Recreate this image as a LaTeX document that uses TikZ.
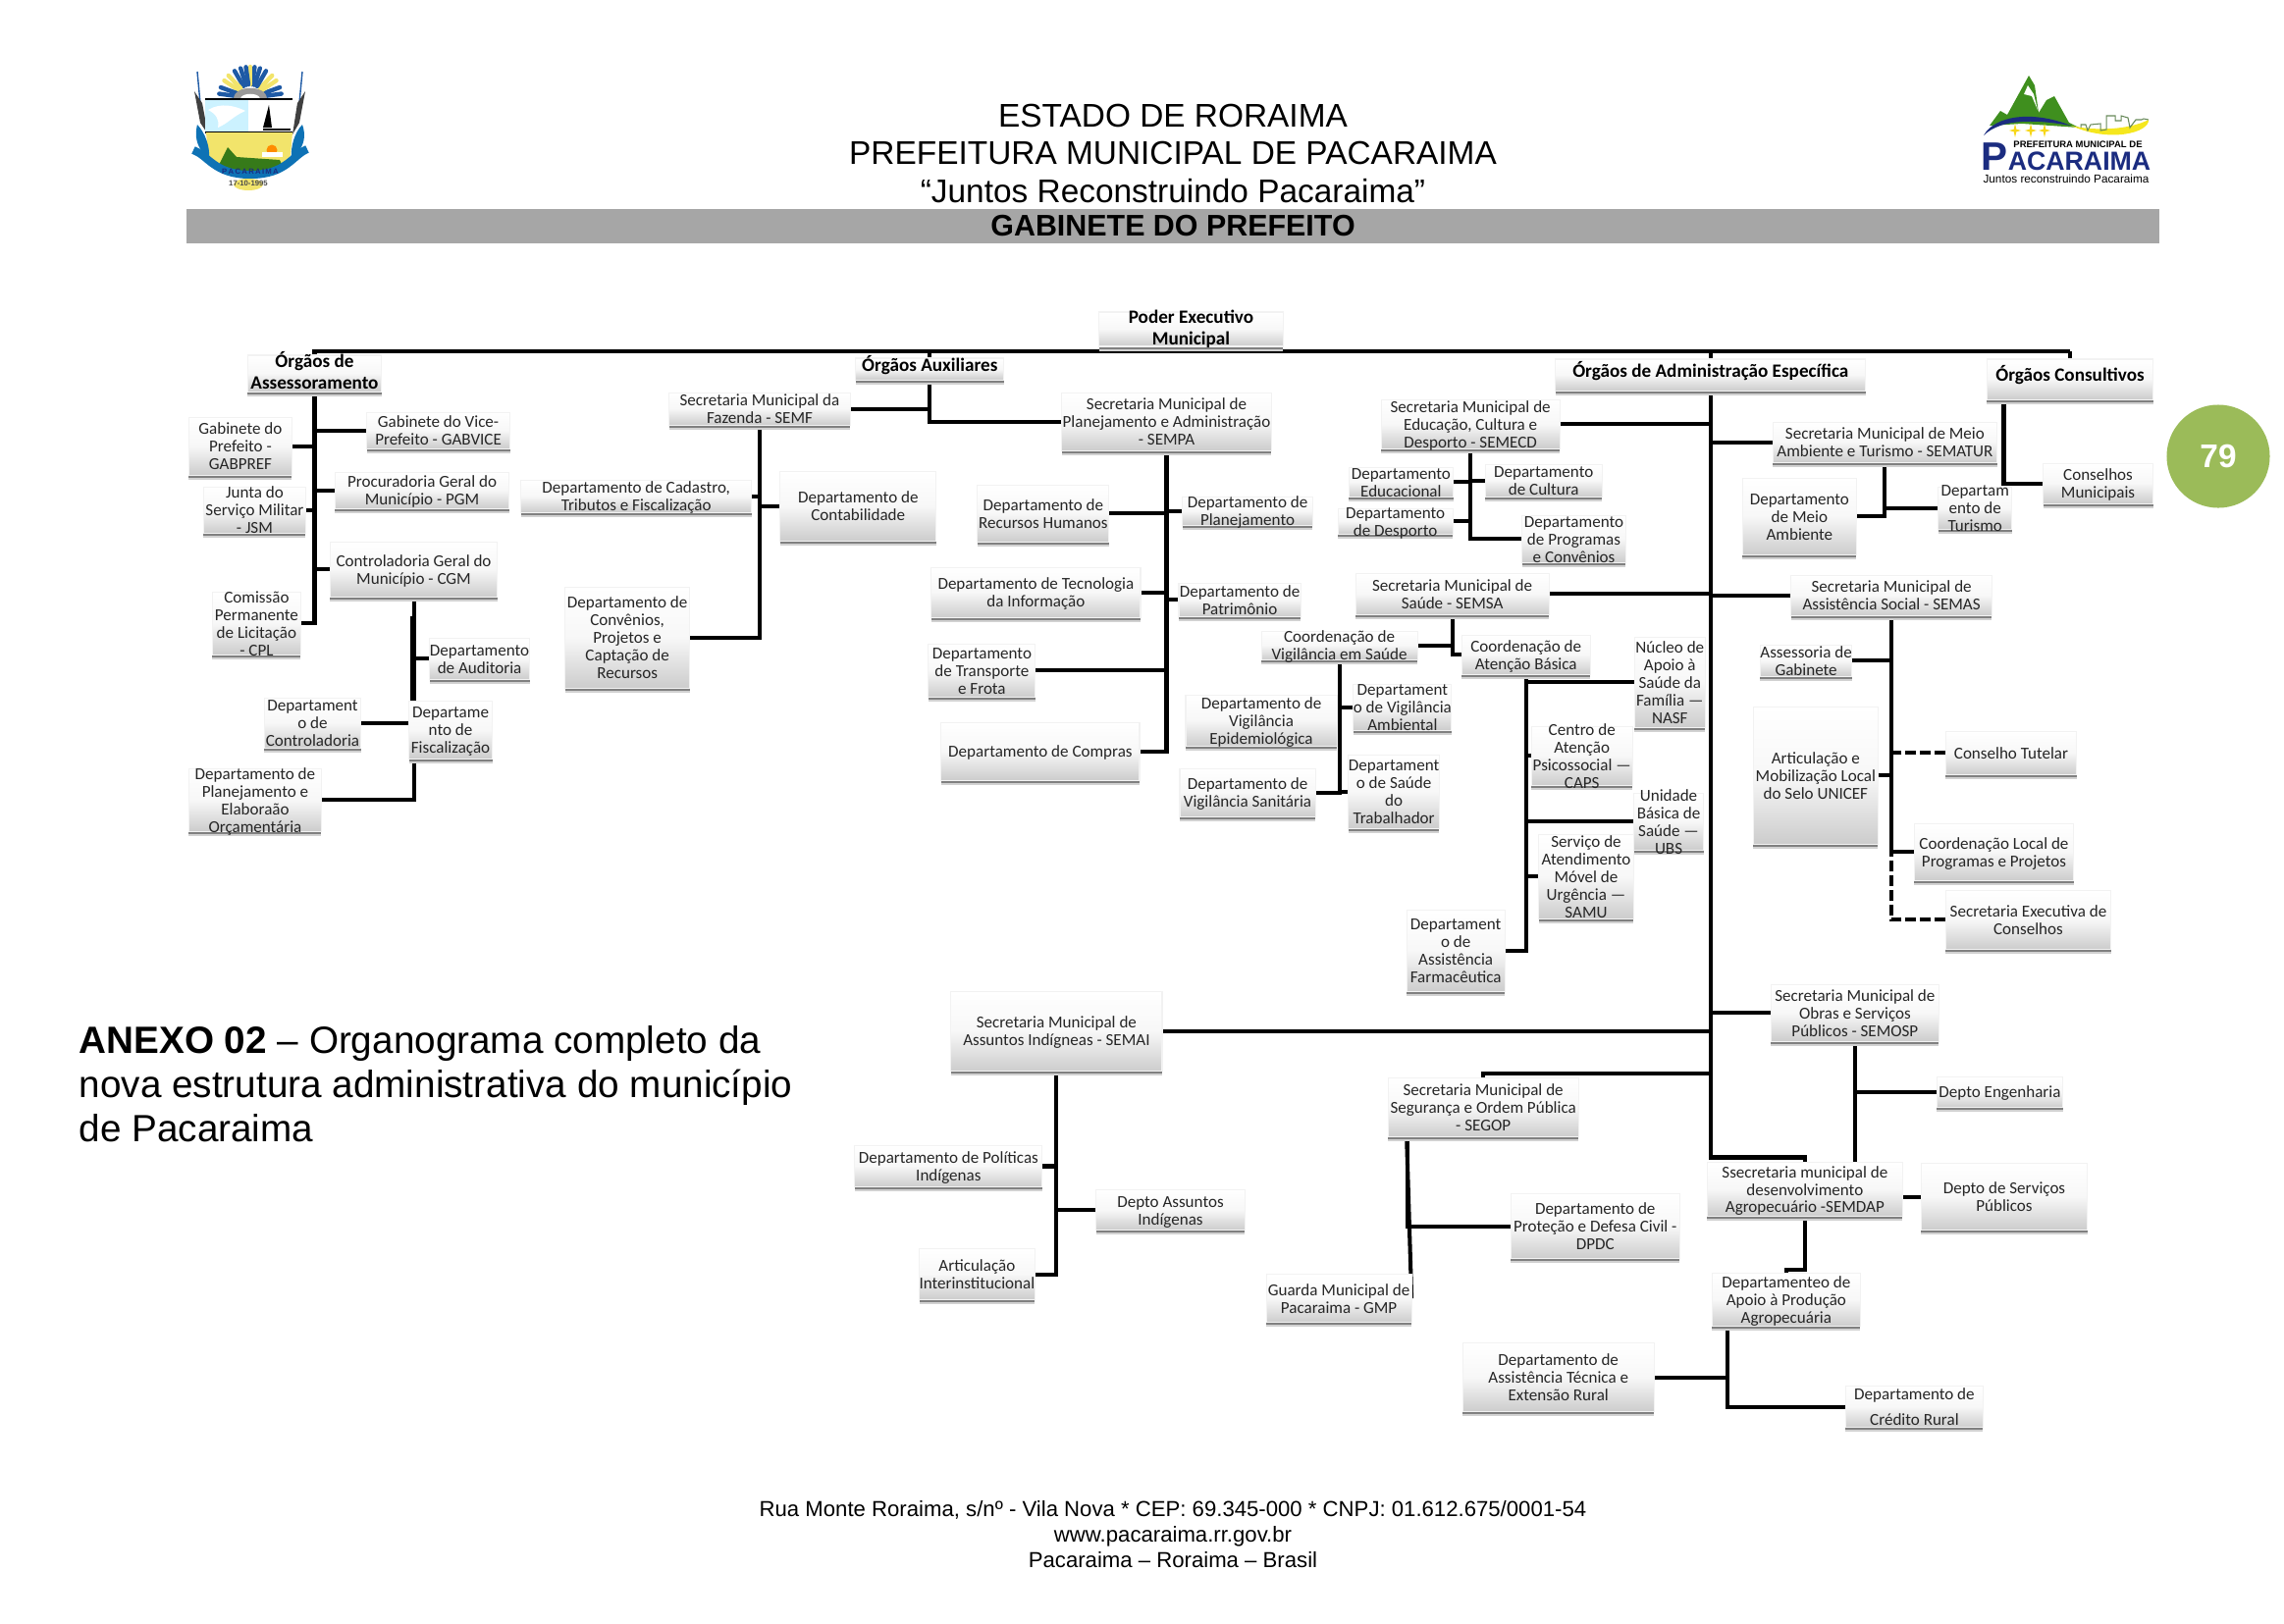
\documentclass[tikz,border=0pt]{standalone}
\usepackage{fontspec}
\setmainfont{Liberation Sans}
\newfontfamily\boxfont{Carlito}
\usepackage{tikz}
\usetikzlibrary{positioning}
\usetikzlibrary{backgrounds, shadows}
\usepackage{xcolor}
\definecolor{bargray}{RGB}{166, 166, 166}
\definecolor{pagegreen}{RGB}{155, 187, 89}
\definecolor{crestblue}{RGB}{30, 90, 165}
\definecolor{ribbonblue}{RGB}{14, 114, 181}
\definecolor{crestyellow}{RGB}{242, 228, 107}
\definecolor{logonavy}{RGB}{27, 44, 128}
\definecolor{logogreen}{RGB}{63, 143, 30}
\definecolor{logoyellow}{RGB}{245, 231, 30}
\newcommand{\boxlines}[2][-0.4em]{\raisebox{#1}[0pt][0pt]{\begin{tabular}{@{}c@{}}#2\end{tabular}}}

\begin{document}
\begin{tikzpicture}[
			x=0.01cm, y=-0.01cm,
			% Chart node styles
			wh/.style 2 args={minimum width=#1cm, minimum height=#2cm},
			orgbox/.style={
				inner sep=0pt, outer sep=0pt, text=black!85,
				draw=black!5, line width=0.3pt,
				top color=white, bottom color=black!20, middle color=black!3,
				general shadow={shadow yshift=-0.045cm, fill=black!18},
				general shadow={shadow yshift=-0.025cm, fill=black!50},
				font={\boxfont\fontsize{4.85}{5.1}\selectfont}
			},
			headbox/.style={
				orgbox, text=black,
				font={\boxfont\bfseries\fontsize{5.45}{6.3}\selectfont}
			},
			link/.style={draw=black, line width=1.15pt},
			dashlink/.style={link, dash pattern=on 0.11cm off 0.04cm}
		]

		\useasboundingbox (0,0) rectangle (2327,1654);

		% Page header, footer and annex text
		\node[align=center, font={\fontsize{9.5}{11}\selectfont}] (title) at (1195,156.4)
			{ESTADO DE RORAIMA\\
			PREFEITURA MUNICIPAL DE PACARAIMA\\
			“Juntos Reconstruindo Pacaraima”};
		\node[fill=bargray, inner sep=0pt, minimum width=20.08cm, minimum height=0.345cm,
			font={\bfseries\fontsize{8.65}{11}\selectfont}] (bar) at (1195,230.5)
			{GABINETE DO PREFEITO};
		\node[align=center, font={\fontsize{6.3}{7.4}\selectfont}] (footer) at (1195,1564)
			{Rua Monte Roraima, s/nº - Vila Nova * CEP: 69.345-000 * CNPJ: 01.612.675/0001-54\\
			www.pacaraima.rr.gov.br\\
			Pacaraima – Roraima – Brasil};
		\node[align=left, anchor=west, inner sep=0pt, font={\fontsize{11}{12.8}\selectfont}] (annex) at (80,1105)
			{\textbf{ANEXO 02} – Organograma completo da\\
			nova estrutura administrativa do município\\
			de Pacaraima};
		\node[circle, fill=pagegreen, minimum size=1.05cm, inner sep=0pt, text=white,
			font={\bfseries\fontsize{9.5}{11}\selectfont}] (pagenum) at (2260,465) {79};

		% Crest, top left
		\draw[crestblue, line width=0.4pt] (201,73) -- (204,105);
		\draw[crestblue, line width=0.4pt] (308,73) -- (305,105);
		\fill[black!75] (198,93) -- (206,105) -- (212,137) -- (204,125) -- cycle;
		\fill[black!75] (311,93) -- (303,105) -- (298,137) -- (305,125) -- cycle;
		\foreach \ang/\col in {8/crestblue, 20/crestblue, 34/crestyellow, 46/crestyellow, 60/crestblue, 72/crestblue, 82/crestblue, 90/crestyellow, 98/crestblue, 108/crestblue, 120/crestblue, 134/crestyellow, 146/crestyellow, 160/crestblue, 172/crestblue}
			\draw[\col, line width=1.25pt, line cap=round] ({255+14*cos(\ang)},{100-14*sin(\ang)}) -- ({255+32*cos(\ang)},{100-32*sin(\ang)});
		\fill[black!40] (238,101) .. controls (238,86) and (272,86) .. (272,101) -- cycle;
		\fill[white] (245,101) .. controls (245,94) and (265,94) .. (265,101) -- cycle;
		\fill[blue!25!cyan!20] (209,101) rectangle (253,135);
		\fill[white] (212,112) .. controls (225,104) and (240,108) .. (250,113) .. controls (238,118) and (232,126) .. (222,130) .. controls (224,122) and (220,116) .. cycle;
		\fill[black] (274,107) -- (277,130) -- (268,130) -- cycle;
		\draw[black, line width=0.5pt] (209,101) -- (298,101);
		\draw[black, line width=0.5pt] (209,135) -- (298,135);
		\draw[black, line width=0.4pt] (268,132) -- (296,132);
		\fill[crestyellow] (210,135) -- (298,135) -- (296,158) .. controls (290,172) and (265,178) .. (254,180) .. controls (240,178) and (216,172) .. (212,158) -- cycle;
		\fill[orange!90!yellow] (277,153) circle (5.5);
		\fill[white] (267,155) rectangle (288,160);
		\fill[logogreen!85!black] (222,170) -- (232,150) -- (241,160) -- (285,163) -- (289,172) -- (254,180) -- cycle;
		\fill[ribbonblue] (201,127) .. controls (209,135) and (214,150) .. (213,160) -- (205,153) .. controls (199,145) and (199,135) .. cycle;
		\fill[ribbonblue] (308,127) .. controls (300,135) and (296,150) .. (297,160) -- (305,153) .. controls (311,145) and (311,135) .. cycle;
		\draw[ribbonblue, line width=2.3pt] (197,153) .. controls (212,158) and (218,178) .. (255,178) .. controls (292,178) and (298,158) .. (313,152);
		\fill[crestyellow] (253,188) ellipse (15 and 6);
		\node[inner sep=0pt, text=logonavy, font={\bfseries\fontsize{2.2}{2.4}\selectfont}] (crest-name) at (255,175) {P\,A\,C\,A\,R\,A\,I\,M\,A};
		\node[inner sep=0pt, text=black!70, font={\bfseries\fontsize{2.2}{3}\selectfont}] (crest-date) at (253,187) {17-10-1995};

		% Logo, top right
		\fill[logogreen] (2027,128) -- (2038,113) -- (2045,117) -- (2067,77) -- (2073,87) -- (2077,115) -- (2085,102) -- (2093,98) -- (2108,125) -- (2118,130) -- (2060,126) -- cycle;
		\fill[white] (2066,87) -- (2072,96) -- (2076,112) -- (2070,98) -- (2062,96) -- cycle;
		\fill[logonavy] (2021,138) .. controls (2032,118) and (2070,112) .. (2110,128) .. controls (2075,122) and (2040,120) .. cycle;
		\fill[logoyellow] (2110,128) .. controls (2135,134) and (2170,132) .. (2189,122) .. controls (2190,135) and (2150,146) .. cycle;
		\draw[logogreen!60!black!70, line width=0.3pt] (2120,130) -- (2120,127) -- (2125,127) -- (2127,133) -- (2130,127) -- (2140,126) -- (2140,133) -- (2146,132) -- (2146,118) -- (2155,118) -- (2155,123) -- (2161,123) -- (2161,118) -- (2168,120) -- (2170,130) -- (2176,122) -- (2182,122) -- (2184,121) -- (2189,122);
		\foreach \sx in {2053,2069,2083}
			\fill[logoyellow!85!orange] (\sx,126) -- (\sx+1.3,131.7) -- (\sx+6,133) -- (\sx+1.3,134.3) -- (\sx,140) -- (\sx-1.3,134.3) -- (\sx-6,133) -- (\sx-1.3,131.7) -- cycle;
		\node[inner sep=0pt, font={\bfseries\fontsize{2.7}{3}\selectfont}] (logo-top) at (2117,147) {PREFEITURA MUNICIPAL DE};
		\node[anchor=base, inner sep=0pt, text=logonavy, font={\bfseries\fontsize{7.6}{9}\selectfont}] (logo-name) at (2105,173)
			{{\fontsize{11.5}{9}\selectfont P}ACARAIMA};
		\node[inner sep=0pt, font={\fontsize{3.35}{4}\selectfont}] (logo-motto) at (2105,182) {Juntos reconstruindo Pacaraima};

		% Nodes, heads of the chart
		\node[headbox, wh={1.87}{0.35}] (poder) at (1213.5,335.5)
			{\boxlines[-0.25em]{Poder Executivo\\Municipal}};
		\node[headbox, wh={1.36}{0.37}, below=0.09cm of poder, xshift=-8.925cm] (oas)
			{\boxlines[-0.25em]{Órgãos de\\Assessoramento}};
		\node[headbox, wh={1.51}{0.22}, below=0.12cm of poder, xshift=-2.66cm] (oaux)
			{\boxlines[-0.1em]{Órgãos Auxiliares}};
		\node[headbox, wh={3.16}{0.32}, below=0.13cm of poder, xshift=5.29cm] (oadm)
			{\boxlines[-0.1em]{Órgãos de Administração Específica}};
		\node[headbox, wh={1.69}{0.41}, below=0.13cm of poder, xshift=8.95cm] (ocons)
			{\boxlines[-0.1em]{Órgãos Consultivos}};

		% Nodes, Assessoramento
		\node[orgbox, wh={1.46}{0.37}, below=0.21cm of oas, xshift=1.26cm] (vice)
			{\boxlines{Gabinete do Vice-\\Prefeito - GABVICE}};
		\node[orgbox, wh={1.05}{0.59}, below=0.26cm of oas, xshift=-0.755cm] (gabpref)
			{\boxlines{Gabinete do\\Prefeito -\\GABPREF}};
		\node[orgbox, wh={1.04}{0.47}, below=0.97cm of oas, xshift=-0.61cm] (jsm)
			{\boxlines{Junta do\\Serviço Militar\\- JSM}};
		\node[orgbox, wh={1.77}{0.37}, below=0.82cm of oas, xshift=1.095cm] (pgm)
			{\boxlines{Procuradoria Geral do\\Município - PGM}};
		\node[orgbox, wh={1.70}{0.56}, below=1.53cm of oas, xshift=1.01cm] (cgm)
			{\boxlines{Controladoria Geral do\\Município - CGM}};
		\node[orgbox, wh={0.90}{0.64}, below=2.04cm of oas, xshift=-0.59cm] (cpl)
			{\boxlines{Comissão\\Permanente\\de Licitação\\- CPL}};
		\node[orgbox, wh={1.02}{0.42}, below=0.42cm of cgm, xshift=0.67cm] (audit)
			{\boxlines{Departamento\\de Auditoria}};
		\node[orgbox, wh={0.98}{0.51}, below=1.03cm of cgm, xshift=-1.03cm] (control)
			{\boxlines{Departament\\o de\\Controladoria}};
		\node[orgbox, wh={0.85}{0.59}, below=1.06cm of cgm, xshift=0.375cm] (fiscal)
			{\boxlines{Departame\\nto de\\Fiscalização}};
		\node[orgbox, wh={1.35}{0.64}, below=1.75cm of cgm, xshift=-1.615cm] (orcam)
			{\boxlines{Departamento de\\Planejamento e\\Elaboraão\\Orçamentária}};

		% Nodes, Auxiliares
		\node[orgbox, wh={1.845}{0.33}, below=0.13cm of oaux, xshift=-1.7325cm] (semf)
			{\boxlines{Secretaria Municipal da\\Fazenda - SEMF}};
		\node[orgbox, wh={2.13}{0.59}, below=0.13cm of oaux, xshift=2.41cm] (sempa)
			{\boxlines{Secretaria Municipal de\\Planejamento e Administração\\- SEMPA}};
		\node[orgbox, wh={2.35}{0.33}, below=0.56cm of semf, xshift=-1.2575cm] (cadastro)
			{\boxlines{Departamento de Cadastro,\\Tributos e Fiscalização}};
		\node[orgbox, wh={1.59}{0.71}, below=0.47cm of semf, xshift=1.0025cm] (contab)
			{\boxlines{Departamento de\\Contabilidade}};
		\node[orgbox, wh={1.27}{1.03}, below=1.65cm of semf, xshift=-1.3475cm] (convenios)
			{\boxlines{Departamento de\\Convênios,\\Projetos e\\Captação de\\Recursos}};
		\node[orgbox, wh={1.34}{0.58}, below=0.35cm of sempa, xshift=-1.255cm] (rh)
			{\boxlines{Departamento de\\Recursos Humanos}};
		\node[orgbox, wh={1.325}{0.29}, below=0.47cm of sempa, xshift=0.825cm] (planej)
			{\boxlines{Departamento de\\Planejamento}};
		\node[orgbox, wh={2.13}{0.51}, below=1.19cm of sempa, xshift=-1.33cm] (tinfo)
			{\boxlines{Departamento de Tecnologia\\da Informação}};
		\node[orgbox, wh={1.24}{0.34}, below=1.35cm of sempa, xshift=0.745cm] (patrim)
			{\boxlines{Departamento de\\Patrimônio}};
		\node[orgbox, wh={1.09}{0.54}, below=1.97cm of sempa, xshift=-1.88cm] (transp)
			{\boxlines{Departamento\\de Transporte\\e Frota}};
		\node[orgbox, wh={2.02}{0.59}, below=2.77cm of sempa, xshift=-1.285cm] (compras)
			{\boxlines{Departamento de Compras}};

		% Nodes, Administração Específica
		\node[orgbox, wh={1.82}{0.50}, below=0.09cm of oadm, xshift=-2.445cm] (semecd)
			{\boxlines{Secretaria Municipal de\\Educação, Cultura e\\Desporto - SEMECD}};
		\node[orgbox, wh={2.28}{0.41}, below=0.32cm of oadm, xshift=1.775cm] (sematur)
			{\boxlines{Secretaria Municipal de Meio\\Ambiente e Turismo - SEMATUR}};
		\node[orgbox, wh={1.97}{0.42}, below=1.86cm of oadm, xshift=-2.63cm] (semsa)
			{\boxlines{Secretaria Municipal de\\Saúde - SEMSA}};
		\node[orgbox, wh={2.045}{0.41}, below=1.88cm of oadm, xshift=1.8425cm] (semas)
			{\boxlines{Secretaria Municipal de\\Assistência Social - SEMAS}};
		\node[orgbox, wh={2.15}{0.81}, below=6.12cm of oadm, xshift=-6.66cm] (semai)
			{\boxlines{Secretaria Municipal de\\Assuntos Indígneas - SEMAI}};
		\node[orgbox, wh={1.71}{0.58}, below=6.05cm of oadm, xshift=1.47cm] (semosp)
			{\boxlines{Secretaria Municipal de\\Obras e Serviços\\Públicos - SEMOSP}};
		\node[orgbox, wh={1.94}{0.60}, below=7.00cm of oadm, xshift=-2.315cm] (segop)
			{\boxlines{Secretaria Municipal de\\Segurança e Ordem Pública\\- SEGOP}};
		\node[orgbox, wh={1.99}{0.55}, below=7.86cm of oadm, xshift=0.96cm] (semdap)
			{\boxlines{Ssecretaria municipal de\\desenvolvimento\\Agropecuário -SEMDAP}};

		% Nodes, Educação
		\node[orgbox, wh={1.065}{0.30}, below=0.19cm of semecd, xshift=-0.7075cm] (educ)
			{\boxlines{Departamento\\Educacional}};
		\node[orgbox, wh={1.19}{0.33}, below=0.16cm of semecd, xshift=0.745cm] (cultura)
			{\boxlines{Departamento\\de Cultura}};
		\node[orgbox, wh={1.17}{0.26}, below=0.61cm of semecd, xshift=-0.765cm] (desporto)
			{\boxlines{Departamento\\de Desporto}};
		\node[orgbox, wh={1.055}{0.48}, below=0.68cm of semecd, xshift=1.0525cm] (progr)
			{\boxlines{Departamento\\de Programas\\e Convênios}};

		% Nodes, Saúde
		\node[orgbox, wh={1.59}{0.29}, below=0.17cm of semsa, xshift=-1.15cm] (cvig)
			{\boxlines{Coordenação de\\Vigilância em Saúde}};
		\node[orgbox, wh={1.31}{0.40}, below=0.21cm of semsa, xshift=0.75cm] (cabas)
			{\boxlines{Coordenação de\\Atenção Básica}};
		\node[orgbox, wh={0.995}{0.47}, below=0.25cm of cvig, xshift=0.6425cm] (vamb)
			{\boxlines{Departament\\o de Vigilância\\Ambiental}};
		\node[orgbox, wh={1.54}{0.52}, below=0.36cm of cvig, xshift=-0.795cm] (vepid)
			{\boxlines{Departamento de\\Vigilância\\Epidemiológica}};
		\node[orgbox, wh={0.92}{0.75}, below=0.97cm of cvig, xshift=0.555cm] (strab)
			{\boxlines{Departament\\o de Saúde\\do\\Trabalhador}};
		\node[orgbox, wh={1.38}{0.49}, below=1.11cm of cvig, xshift=-0.935cm] (vsan)
			{\boxlines{Departamento de\\Vigilância Sanitária}};
		\node[orgbox, wh={0.72}{0.92}, below=-0.38cm of cabas, xshift=1.465cm] (nasf)
			{\boxlines{Núcleo de\\Apoio à\\Saúde da\\Família —\\NASF}};
		\node[orgbox, wh={1.03}{0.60}, below=0.53cm of cabas, xshift=0.57cm] (caps)
			{\boxlines{Centro de\\Atenção\\Psicossocial —\\CAPS}};
		\node[orgbox, wh={0.715}{0.58}, below=1.21cm of cabas, xshift=1.4525cm] (ubs)
			{\boxlines{Unidade\\Básica de\\Saúde —\\UBS}};
		\node[orgbox, wh={0.965}{0.86}, below=1.63cm of cabas, xshift=0.6125cm] (samu)
			{\boxlines{Serviço de\\Atendimento\\Móvel de\\Urgência —\\SAMU}};
		\node[orgbox, wh={1.00}{0.83}, below=2.40cm of cabas, xshift=-0.715cm] (farmac)
			{\boxlines{Departament\\o de\\Assistência\\Farmacêutica}};

		% Nodes, Meio Ambiente and Consultivos
		\node[orgbox, wh={1.16}{0.78}, below=0.16cm of sematur, xshift=-0.87cm] (meioamb)
			{\boxlines{Departamento\\de Meio\\Ambiente}};
		\node[orgbox, wh={0.745}{0.43}, below=0.25cm of sematur, xshift=0.9175cm] (turismo)
			{\boxlines{Departam\\ento de\\Turismo}};
		\node[orgbox, wh={1.12}{0.41}, below=0.65cm of ocons, xshift=0.285cm] (conselhos)
			{\boxlines{Conselhos\\Municipais}};

		% Nodes, Assistência Social
		\node[orgbox, wh={0.935}{0.32}, below=0.30cm of semas, xshift=-0.87cm] (assess)
			{\boxlines{Assessoria de\\Gabinete}};
		\node[orgbox, wh={1.27}{1.40}, below=0.93cm of semas, xshift=-0.7725cm] (unicef)
			{\boxlines{Articulação e\\Mobilização Local\\do Selo UNICEF}};
		\node[orgbox, wh={1.33}{0.44}, below=1.18cm of semas, xshift=1.2175cm] (tutelar)
			{\boxlines{Conselho Tutelar}};
		\node[orgbox, wh={1.62}{0.58}, below=2.12cm of semas, xshift=1.0425cm] (clocal)
			{\boxlines{Coordenação Local de\\Programas e Projetos}};
		\node[orgbox, wh={1.68}{0.60}, below=2.80cm of semas, xshift=1.3925cm] (sexec)
			{\boxlines{Secretaria Executiva de\\Conselhos}};

		% Nodes, Assuntos Indígenas
		\node[orgbox, wh={1.91}{0.42}, below=0.76cm of semai, xshift=-1.10cm] (politicas)
			{\boxlines{Departamento de Políticas\\Indígenas}};
		\node[orgbox, wh={1.51}{0.41}, below=1.21cm of semai, xshift=1.16cm] (assuntos)
			{\boxlines{Depto Assuntos\\Indígenas}};
		\node[orgbox, wh={1.17}{0.52}, below=1.81cm of semai, xshift=-0.81cm] (interinst)
			{\boxlines{Articulação\\Interinstitucional}};

		% Nodes, Segurança, Obras, Agropecuário
		\node[orgbox, wh={1.48}{0.49}, below=1.40cm of segop, xshift=-1.47cm] (guarda)
			{\boxlines{Guarda Municipal de\\Pacaraima - GMP}};
		\node[orgbox, wh={1.72}{0.66}, below=0.58cm of segop, xshift=1.14cm] (dpdc)
			{\boxlines{Departamento de\\Proteção e Defesa Civil -\\DPDC}};
		\node[orgbox, wh={1.28}{0.31}, below=0.36cm of semosp, xshift=1.475cm] (engenh)
			{\boxlines{Depto Engenharia}};
		\node[orgbox, wh={1.69}{0.68}, below=-0.54cm of semdap, xshift=2.03cm] (servicos)
			{\boxlines{Depto de Serviços\\Públicos}};
		\node[orgbox, wh={1.51}{0.54}, below=0.58cm of semdap, xshift=-0.19cm] (apoio)
			{\boxlines{Departamenteo de\\Apoio à Produção\\Agropecuária}};
		\node[orgbox, wh={1.95}{0.70}, below=0.17cm of apoio, xshift=-2.32cm] (atec)
			{\boxlines{Departamento de\\Assistência Técnica e\\Extensão Rural}};
		\node[orgbox, wh={1.40}{0.42}, below=0.61cm of apoio, xshift=1.305cm] (credito)
			{\boxlines{Departamento de\\[2.3pt]Crédito Rural}};

		% Connectors, drawn under the boxes
		\begin{scope}[on background layer]
			% Top bar
			\coordinate (bus-east) at ([yshift=0.08cm]ocons.north);
			\draw[link] (bus-east) -| (oas.north);
			\draw[link] (bus-east) -- (ocons.north);
			\draw[link] (poder.south) -- (poder.south |- bus-east);
			\draw[link] (oaux.north) -- (oaux.north |- bus-east);
			\draw[link] (oadm.north) -- (oadm.north |- bus-east);

			% Assessoramento
			\draw[link] (vice.west) -| (oas.south);
			\draw[link] (gabpref.east) -| (oas.south);
			\draw[link] (jsm.east) -| (oas.south);
			\draw[link] (pgm.west) -| (oas.south);
			\draw[link] (cgm.west) -| (oas.south);
			\draw[link] (cpl.east) -| (oas.south);
			\draw[link] (audit.west) -| (cgm.south);
			\draw[link] (control.east) -| (cgm.south);
			\draw[link] (orcam.east) -| (cgm.south);
			\draw[link] ([xshift=-0.02cm]fiscal.north -| cgm.south) -- ([xshift=-0.02cm, yshift=-0.2cm]cgm.south);

			% Auxiliares
			\draw[link] (semf.east) -| (oaux.south);
			\draw[link] (sempa.west) -| (oaux.south);
			\draw[link] (cadastro.east) -| (semf.south);
			\draw[link] (contab.west) -| (semf.south);
			\draw[link] (convenios.east) -| (semf.south);
			\draw[link] (rh.east) -| (sempa.south);
			\draw[link] (planej.west) -| (sempa.south);
			\draw[link] (tinfo.east) -| (sempa.south);
			\draw[link] (patrim.west) -| (sempa.south);
			\draw[link] (transp.east) -| (sempa.south);
			\draw[link] (compras.east) -| (sempa.south);

			% Administração Específica
			\coordinate (semdap-top) at ([yshift=0.05cm]semdap.north);
			\coordinate (segop-top) at ([yshift=0.04cm]segop.north);
			\draw[link] (oadm.south) |- (semdap-top) -- (semdap.north);
			\draw[link] (oadm.south |- segop-top) -- (segop-top) -- (segop.north);
			\draw[link] (semecd.east) -| (oadm.south);
			\draw[link] (sematur.west) -| (oadm.south);
			\draw[link] (semsa.east) -| (oadm.south);
			\draw[link] (semas.west) -| (oadm.south);
			\draw[link] (semai.east) -| (oadm.south);
			\draw[link] (semosp.west) -| (oadm.south);

			% Educação
			\draw[link] (educ.east) -| (semecd.south);
			\draw[link] (cultura.west) -| (semecd.south);
			\draw[link] (desporto.east) -| (semecd.south);
			\draw[link] (progr.west) -| (semecd.south);

			% Saúde
			\draw[link] (cvig.east) -| (semsa.south);
			\draw[link] (cabas.west) -| (semsa.south);
			\draw[link] (vamb.west) -| (cvig.south);
			\draw[link] (vepid.east) -| (cvig.south);
			\draw[link] (strab.west) -| (cvig.south);
			\draw[link] (vsan.east) -| (cvig.south);
			\draw[link] (nasf.west) -| (cabas.south);
			\draw[link] (caps.west) -| (cabas.south);
			\draw[link] (ubs.west) -| (cabas.south);
			\draw[link] (samu.west) -| (cabas.south);
			\draw[link] (farmac.east) -| (cabas.south);

			% Meio Ambiente and Consultivos
			\draw[link] (meioamb.east) -| (sematur.south);
			\draw[link] (turismo.west) -| (sematur.south);
			\draw[link] (conselhos.west) -| ([xshift=0.17cm]ocons.south west);

			% Assistência Social
			\draw[link] (assess.east) -| (semas.south);
			\draw[link] (unicef.east) -| (semas.south);
			\draw[link] (clocal.west) -| (semas.south);
			\draw[dashlink] (tutelar.west) -- (tutelar.west -| semas.south);
			\draw[dashlink] (sexec.west) -| (clocal.west -| semas.south);

			% Assuntos Indígenas
			\draw[link] (politicas.east) -| (semai.south);
			\draw[link] (assuntos.west) -| (semai.south);
			\draw[link] (interinst.east) -| (semai.south);

			% Segurança
			\draw[link] ([xshift=0.19cm]segop.south west) -- (guarda.east);
			\draw[link] (dpdc.west) -| ([xshift=0.20cm]segop.south west);

			% Obras and Agropecuário
			\draw[link] (semosp.south) -- (semosp.south |- semdap.north);
			\draw[link] (engenh.west) -| (semosp.south);
			\draw[link] (servicos.west) -- (servicos.west -| semdap.east);
			\coordinate (apoio-top) at ([yshift=0.04cm]apoio.north);
			\draw[link] (semdap.south) |- (apoio-top) -- (apoio.north);
			\draw[link] (atec.east) -| ([xshift=0.16cm]apoio.south west);
			\draw[link] (credito.west) -| ([xshift=0.16cm]apoio.south west);
		\end{scope}

		\end{tikzpicture}
\end{document}
